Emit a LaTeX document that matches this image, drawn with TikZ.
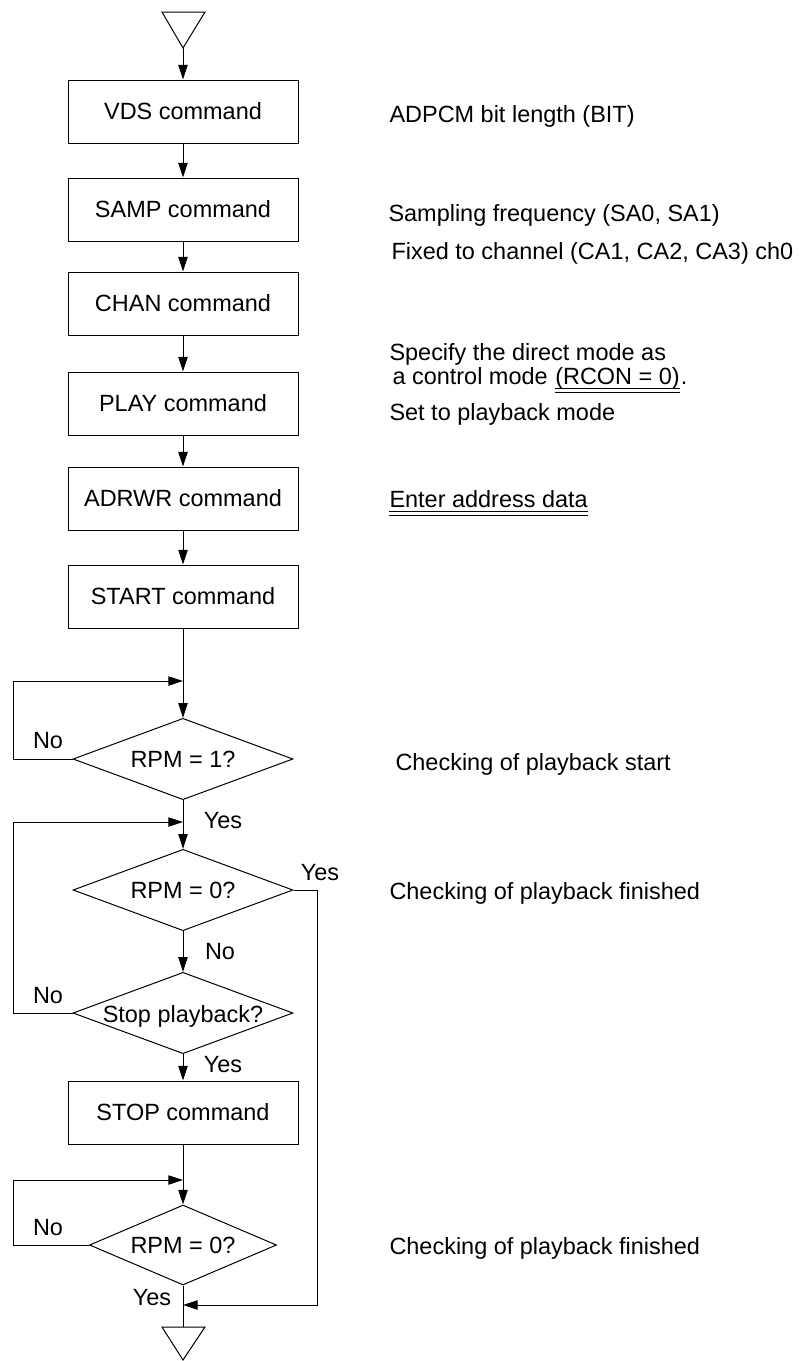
\documentclass[tikz,border=0pt]{standalone}
\usepackage{fontspec}
\setmainfont{Liberation Sans}
\usetikzlibrary{arrows.meta,shapes.geometric}
\begin{document}
\begin{tikzpicture}[x=0.75pt,y=-0.75pt, line width=0.75pt,
  every node/.style={font=\fontsize{17.6}{21}\selectfont, inner sep=0pt},
  cmd/.style={draw, rectangle, minimum width=172.5pt, minimum height=47.25pt},
  dia/.style={draw, diamond, minimum width=165pt, minimum height=61pt},
  note/.style={anchor=base west},
  arr/.style={-{Triangle[length=11pt,width=7pt]}}]
\useasboundingbox (0,0) rectangle (800,1361);
% terminators
\coordinate (t1) at (183,48);
\draw (162,12) -- (205,12) -- (t1) -- cycle;
\coordinate (t2) at (183,1327);
\draw (162,1327) -- (205,1327) -- (183,1360) -- cycle;
% boxes
\node[cmd] (vds) at (183,111.5) {VDS command};
\node[cmd] (samp) at (183,209.5) {SAMP command};
\node[cmd] (chan) at (183,303.5) {CHAN command};
\node[cmd] (play) at (183,403.5) {PLAY command};
\node[cmd] (adrwr) at (183,498.5) {ADRWR command};
\node[cmd] (start) at (183,596.5) {START command};
\node[dia] (d1) at (183,759) {};
\node at (d1) {RPM = 1?};
\node[dia] (d2) at (183,890) {};
\node at (d2) {RPM = 0?};
\node[dia] (d3) at (183,1013) {};
\node at (183,1016) {Stop playback?};
\node[cmd] (stop) at (183,1112.5) {STOP command};
\node[dia, minimum width=140.25pt, minimum height=60pt] (d4) at (183,1245) {};
\node at (d4) {RPM = 0?};
% junction coordinates
\coordinate (j1) at (183,681);
\coordinate (l1) at (13,681);
\coordinate (j2) at (183,822);
\coordinate (l2) at (13,822);
\coordinate (j3) at (183,1180);
\coordinate (l3) at (13,1180);
\coordinate (j4) at (183,1305);
\coordinate (r1) at (317,1305);
% connectors
\draw[arr] (t1) -- (vds);
\draw[arr] (vds) -- (samp);
\draw[arr] (samp) -- (chan);
\draw[arr] (chan) -- (play);
\draw[arr] (play) -- (adrwr);
\draw[arr] (adrwr) -- (start);
\draw[arr] (start) -- (d1);
\draw[arr] (d1.west) -| (l1) -- (j1);
\draw[arr] (d1) -- (d2);
\draw[arr] (d2) -- (d3);
\draw[arr] (d3.west) -| (l2) -- (j2);
\draw[arr] (d3) -- (stop);
\draw[arr] (stop) -- (d4);
\draw[arr] (d4.west) -| (l3) -- (j3);
\draw (d4.south) -- (t2);
\draw[arr] (d2.east) -| (r1) -- (j4);
% branch labels
\node at (48,741) {No};
\node at (223,821) {Yes};
\node at (320,873) {Yes};
\node at (220,952) {No};
\node at (48,996) {No};
\node at (223,1065) {Yes};
\node at (48,1228) {No};
\node at (152,1298) {Yes};
% notes
\node[note] at (389,122) {ADPCM bit length (BIT)};
\node[note] at (388,221) {Sampling frequency (SA0, SA1)};
\node[note] at (391,259) {Fixed to channel (CA1, CA2, CA3) ch0};
\node[note] at (389,360) {Specify the direct mode as};
\node[note] (ctl) at (392,384) {a control mode};
\node[note] (rcon) at ([xshift=4.9pt]ctl.base east) {(RCON = 0)};
\node[note] at (rcon.base east) {.};
\draw ([yshift=-3.5pt]rcon.base west) -- ([yshift=-3.5pt]rcon.base east);
\draw ([yshift=-6.5pt]rcon.base west) -- ([yshift=-6.5pt]rcon.base east);
\node[note] at (389,420) {Set to playback mode};
\node[note] (enter) at (389,507) {Enter address data};
\draw ([yshift=-3.5pt]enter.base west) -- ([yshift=-3.5pt]enter.base east);
\draw ([yshift=-6.5pt]enter.base west) -- ([yshift=-6.5pt]enter.base east);
\node[note] at (395,770) {Checking of playback start};
\node[note] at (389,899) {Checking of playback finished};
\node[note] at (389,1254) {Checking of playback finished};
\end{tikzpicture}
\end{document}
